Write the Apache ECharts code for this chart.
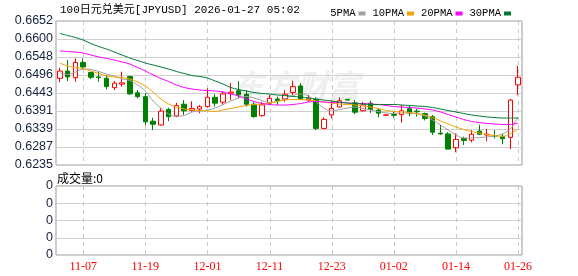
<!DOCTYPE html>
<html><head><meta charset="utf-8">
<script src="https://cdn.jsdelivr.net/npm/echarts@6/dist/echarts.min.js"></script>
<style>html,body{margin:0;padding:0;background:#fff}#c{width:578px;height:276px}</style>
</head><body><div id="c"></div>
<script>
const dates = ['11-04','11-05','11-06','11-07','11-10','11-11','11-12','11-13','11-14','11-17','11-18','11-19','11-20','11-21','11-24','11-25','11-26','11-27','11-28','12-01','12-02','12-03','12-04','12-05','12-08','12-09','12-10','12-11','12-12','12-15','12-16','12-17','12-18','12-19','12-22','12-23','12-24','12-25','12-26','12-29','12-30','12-31','01-01','01-02','01-05','01-06','01-07','01-08','01-09','01-12','01-13','01-14','01-15','01-16','01-19','01-20','01-21','01-22','01-23','01-26'];
const opens  = [0.6486,0.6507,0.6488,0.6532,0.6503,0.6490,0.6486,0.6459,0.6469,0.6491,0.6444,0.6433,0.6362,0.6351,0.6396,0.6377,0.6411,0.6393,0.6397,0.6404,0.6431,0.6417,0.6443,0.6450,0.6440,0.6411,0.6378,0.6414,0.6426,0.6426,0.6445,0.6464,0.6423,0.6425,0.6341,0.6380,0.6403,0.6425,0.6415,0.6392,0.6414,0.6394,0.6379,0.6381,0.6381,0.6398,0.6391,0.6384,0.6375,0.6327,0.6325,0.6285,0.6312,0.6307,0.6333,0.6322,0.6320,0.6318,0.6315,0.6467];
const closes = [0.6507,0.6490,0.6532,0.6519,0.6489,0.6488,0.6462,0.6472,0.6473,0.6441,0.6433,0.6360,0.6353,0.6391,0.6375,0.6407,0.6392,0.6399,0.6404,0.6431,0.6414,0.6441,0.6446,0.6438,0.6411,0.6375,0.6409,0.6428,0.6421,0.6440,0.6462,0.6425,0.6427,0.6341,0.6367,0.6399,0.6421,0.6423,0.6388,0.6409,0.6396,0.6385,0.6380,0.6379,0.6392,0.6385,0.6389,0.6370,0.6330,0.6325,0.6281,0.6309,0.6306,0.6324,0.6324,0.6324,0.6319,0.6311,0.6423,0.6489];
const lows   = [0.6475,0.6478,0.6476,0.6510,0.6484,0.6476,0.6454,0.6452,0.6462,0.6438,0.6428,0.6351,0.6336,0.6349,0.6362,0.6373,0.6380,0.6389,0.6385,0.6401,0.6404,0.6409,0.6423,0.6428,0.6404,0.6372,0.6375,0.6409,0.6409,0.6418,0.6438,0.6423,0.6418,0.6336,0.6338,0.6370,0.6402,0.6422,0.6382,0.6389,0.6386,0.6373,0.6378,0.6372,0.6358,0.6376,0.6375,0.6364,0.6322,0.6322,0.6281,0.6272,0.6293,0.6301,0.6322,0.6304,0.6312,0.6295,0.6281,0.6438];
const highs  = [0.6517,0.6539,0.6544,0.6544,0.6505,0.6505,0.6496,0.6478,0.6505,0.6494,0.6452,0.6443,0.6372,0.6399,0.6401,0.6415,0.6423,0.6420,0.6409,0.6457,0.6440,0.6449,0.6472,0.6478,0.6452,0.6417,0.6418,0.6438,0.6433,0.6452,0.6479,0.6472,0.6438,0.6431,0.6373,0.6423,0.6431,0.6426,0.6423,0.6418,0.6421,0.6399,0.6381,0.6389,0.6409,0.6407,0.6397,0.6387,0.6380,0.6351,0.6330,0.6327,0.6317,0.6336,0.6351,0.6339,0.6336,0.6325,0.6426,0.6522];
const ma5  = [0.65014,0.64971,0.65043,0.65130,0.65116,0.65058,0.64985,0.64927,0.64840,0.64797,0.64667,0.64493,0.64203,0.64000,0.63827,0.63754,0.63783,0.63885,0.63914,0.63943,0.64000,0.64102,0.64203,0.64290,0.64334,0.64290,0.64218,0.64160,0.64189,0.64276,0.64363,0.64406,0.64348,0.64174,0.64000,0.63914,0.63957,0.64000,0.64029,0.63986,0.63943,0.63899,0.63856,0.63841,0.63856,0.63856,0.63827,0.63769,0.63653,0.63508,0.63363,0.63219,0.63132,0.63132,0.63146,0.63161,0.63190,0.63248,0.63392,0.63740];
const ma10 = [0.65304,0.65217,0.65173,0.65144,0.65072,0.65000,0.64927,0.64898,0.64884,0.64840,0.64754,0.64638,0.64464,0.64261,0.64116,0.64029,0.63972,0.63943,0.63928,0.63914,0.63899,0.63943,0.63986,0.64029,0.64073,0.64102,0.64116,0.64145,0.64189,0.64232,0.64247,0.64247,0.64232,0.64203,0.64174,0.64145,0.64116,0.64102,0.64087,0.64058,0.64029,0.63986,0.63928,0.63899,0.63885,0.63870,0.63841,0.63798,0.63725,0.63624,0.63537,0.63450,0.63378,0.63320,0.63277,0.63233,0.63204,0.63175,0.63262,0.63392];
const ma20 = [0.65651,0.65637,0.65622,0.65593,0.65535,0.65477,0.65434,0.65391,0.65333,0.65275,0.65173,0.65072,0.64956,0.64855,0.64768,0.64667,0.64594,0.64551,0.64522,0.64507,0.64493,0.64464,0.64406,0.64348,0.64261,0.64189,0.64131,0.64102,0.64087,0.64087,0.64102,0.64131,0.64174,0.64189,0.64174,0.64160,0.64160,0.64145,0.64131,0.64131,0.64116,0.64102,0.64073,0.64044,0.64029,0.64015,0.64000,0.63972,0.63943,0.63885,0.63812,0.63740,0.63668,0.63610,0.63581,0.63552,0.63537,0.63523,0.63523,0.63566];
const ma30 = [0.66158,0.66100,0.66042,0.65970,0.65868,0.65782,0.65709,0.65622,0.65535,0.65449,0.65376,0.65304,0.65246,0.65188,0.65130,0.65058,0.65000,0.64942,0.64913,0.64869,0.64782,0.64696,0.64594,0.64536,0.64493,0.64449,0.64420,0.64406,0.64377,0.64363,0.64334,0.64319,0.64290,0.64261,0.64232,0.64203,0.64174,0.64145,0.64131,0.64116,0.64102,0.64102,0.64102,0.64102,0.64087,0.64073,0.64058,0.64044,0.64015,0.63972,0.63928,0.63885,0.63841,0.63798,0.63769,0.63740,0.63725,0.63711,0.63711,0.63711];
const volumes = [0,0,0,0,0,0,0,0,0,0,0,0,0,0,0,0,0,0,0,0,0,0,0,0,0,0,0,0,0,0,0,0,0,0,0,0,0,0,0,0,0,0,0,0,0,0,0,0,0,0,0,0,0,0,0,0,0,0,0,0];
const yTickLabels = ['0.6235','0.6287','0.6339','0.6391','0.6443','0.6496','0.6548','0.6600','0.6652'];
const volTickLabels = ['0','0','0','0','0'];
const xTickLabels = ['11-07','11-19','12-01','12-11','12-23','01-02','01-14','01-26'];

const yMin = 0.6235, yMax = 0.6652, yStep = (yMax - yMin) / 8;
const candleData = dates.map((d, i) => [opens[i], closes[i], lows[i], highs[i]]);
const tickIdx = xTickLabels.map(d => dates.indexOf(d));
const showTick = (idx) => tickIdx.indexOf(idx) >= 0;

const chart = echarts.init(document.getElementById('c'), null, {renderer: 'canvas'});
const gridLine = {show: true, lineStyle: {color: '#d0d0d0', width: 1}};
const yLabelFont = {fontFamily: 'Liberation Sans', fontSize: 12.5, color: '#14213d', margin: 3};
const maSeries = (name, data, color) => ({
  name, type: 'line', data, xAxisIndex: 0, yAxisIndex: 0, showSymbol: false, symbol: 'none',
  smooth: 0.3, lineStyle: {color, width: 1}, itemStyle: {color}, z: 7, silent: true
});
// vertical dashed guide lines at the labelled dates, placed through the axes (dashes built as short segments)
const vGuide = (xi, lo, hi) => ({
  type: 'custom', xAxisIndex: xi, yAxisIndex: xi, silent: true, z: 5, clip: false,
  encode: {x: 0, y: 1},
  data: tickIdx.map(i => [i, lo]),
  renderItem: (params, api) => {
    const top = api.coord([api.value(0), hi]);
    const bot = api.coord([api.value(0), lo]);
    const x = Math.round(top[0]) + 0.5;
    const kids = [];
    for (let y = top[1]; y < bot[1]; y += 8) {
      kids.push({type: 'rect', shape: {x: x - 0.5, y: y, width: 1, height: Math.min(4, bot[1] - y)},
                 style: {fill: '#c8c8c8', stroke: null}});
    }
    return {type: 'group', children: kids};
  }
});

chart.setOption({
  animation: false,
  backgroundColor: '#fff',
  title: {
    text: '100日元兑美元[JPYUSD] 2026-01-27 05:02', left: 55, top: 0,
    textStyle: {fontFamily: "'Liberation Mono','Noto Sans CJK SC'", fontSize: 11, fontWeight: 'normal', color: '#000'}
  },
  legend: {
    right: 62, top: 3, align: 'right', itemWidth: 7, itemHeight: 4, itemGap: 7,
    icon: 'rect',
    textStyle: {fontFamily: 'Liberation Mono', fontSize: 10.5, color: '#000', padding: [0, -2, 0, 0]},
    data: ['5PMA', '10PMA', '20PMA', '30PMA']
  },
  graphic: [
    {type: 'text', left: 57, top: 172, z: 10,
     style: {text: '成交量:0', font: "12px 'Noto Sans CJK SC'", fill: '#000'}},
    {type: 'text', left: 232, top: 70, z: -1, silent: true,
     style: {text: '东方财富', font: "italic bold 32px 'Noto Sans CJK SC'", fill: '#efefef'}}
  ],
  grid: [
    {left: 56, right: 56, top: 21, height: 144, show: true, borderColor: '#999', borderWidth: 1},
    {left: 56, right: 56, top: 186, height: 69, show: true, borderColor: '#999', borderWidth: 1}
  ],
  xAxis: [
    {type: 'category', gridIndex: 0, data: dates, boundaryGap: true,
     axisLine: {show: false}, axisTick: {show: false}, axisLabel: {show: false}, splitLine: {show: false}},
    {type: 'category', gridIndex: 1, data: dates, boundaryGap: true,
     axisLine: {show: false}, axisTick: {show: false},
     axisLabel: {show: true, interval: showTick, color: '#ff0000', fontFamily: 'Liberation Serif', fontSize: 12, margin: 6},
     splitLine: {show: false}}
  ],
  yAxis: [
    {type: 'value', gridIndex: 0, min: yMin, max: yMax, interval: yStep,
     axisLine: {show: false}, axisTick: {show: false}, splitLine: gridLine,
     axisLabel: Object.assign({formatter: v => yTickLabels[Math.round((v - yMin) / yStep)]}, yLabelFont)},
    {type: 'value', gridIndex: 1, min: 0, max: 1, interval: 0.25,
     axisLine: {show: false}, axisTick: {show: false}, splitLine: gridLine,
     axisLabel: Object.assign({formatter: v => volTickLabels[Math.round(v / 0.25)]}, yLabelFont)}
  ],
  series: [
    vGuide(0, yMin, yMax),
    vGuide(1, 0, 1),
    {type: 'candlestick', name: 'K', data: candleData, xAxisIndex: 0, yAxisIndex: 0, barWidth: 5, z: 6,
     itemStyle: {color: '#ffffff', color0: '#008000', borderColor: '#ff0000', borderColor0: '#008000', borderWidth: 1}},
    maSeries('5PMA', ma5, '#a0a0a0'),
    maSeries('10PMA', ma10, '#f5a300'),
    maSeries('20PMA', ma20, '#ff00ff'),
    maSeries('30PMA', ma30, '#007a33'),
    {type: 'bar', name: 'VOL', data: volumes, xAxisIndex: 1, yAxisIndex: 1, barWidth: 5, itemStyle: {color: '#ff0000'}}
  ]
});
</script></body></html>
